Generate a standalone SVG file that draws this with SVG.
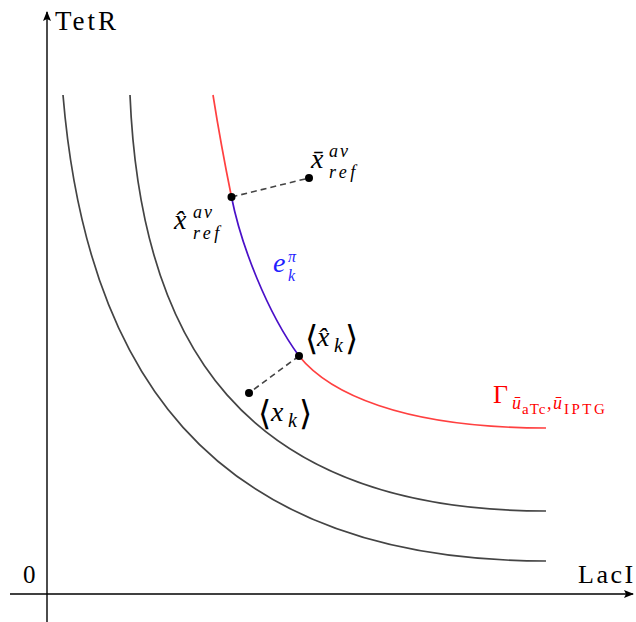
<svg xmlns="http://www.w3.org/2000/svg" width="636" height="622" viewBox="0 0 636 622">
<style>
.it{font-style:italic}
.ax{stroke:#000;stroke-width:1.4;fill:none}
.g{stroke:#444;stroke-width:1.7;fill:none}
.r{stroke:#ff4040;stroke-width:1.7;fill:none}
.b{stroke:#4a10c8;stroke-width:1.7;fill:none}
.d{stroke:#444;stroke-width:1.6;fill:none;stroke-dasharray:6 4}
.blue{fill:#1f1fff}
.red{fill:#ff0000}
</style>
<defs>
<marker id="ah" markerWidth="10" markerHeight="8" refX="9" refY="4" orient="auto" markerUnits="userSpaceOnUse">
<path d="M0,0 L10,4 L0,8 L2,4 Z" fill="#000"/>
</marker>
</defs>
<rect width="636" height="622" fill="#fff"/>
<g id="axes">
<line class="ax" x1="47" y1="622" x2="47" y2="12" marker-end="url(#ah)"/>
<line class="ax" x1="10" y1="594" x2="633" y2="594" marker-end="url(#ah)"/>
<text x="55" y="30" font-family="Liberation Serif, serif" font-size="27" letter-spacing="3">TetR</text>
<text x="578" y="583" font-family="Liberation Serif, serif" font-size="26" letter-spacing="2.5">LacI</text>
<text x="23" y="583" font-family="Liberation Serif, serif" font-size="25">0</text>
</g>
<g id="connectors">
<path id="curve1" class="g" d="M63,95 C85,360 200,561 546,561"/>
<path id="curve2" class="g" d="M130,95 C140,340 240,511 546,511"/>
<path class="r" d="M213,95 C219,133 225,165 231.5,197"/>
<path class="b" d="M231.5,197 C241,245 267,312 299,356"/>
<path class="r" d="M299,356 C328,392 400,428 546,428"/>
<line class="d" x1="231.5" y1="197" x2="309" y2="178"/>
<line class="d" x1="299" y1="356" x2="249" y2="393"/>
</g>
<g id="x-ref-hat">
<circle cx="231.5" cy="197" r="4"/>
<text class="it" font-family="Liberation Serif, serif"><tspan x="174" y="229" font-size="28">x̂</tspan><tspan x="193" y="218" font-size="18" letter-spacing="2">av</tspan><tspan x="193" y="239" font-size="18" letter-spacing="3.5">ref</tspan></text>
</g>
<g id="x-ref-bar">
<circle cx="309" cy="178" r="4"/>
<text class="it" font-family="Liberation Serif, serif"><tspan x="311" y="168" font-size="28">x̄</tspan><tspan x="329" y="157" font-size="18" letter-spacing="2">av</tspan><tspan x="329" y="178" font-size="18" letter-spacing="3.5">ref</tspan></text>
</g>
<g id="e-k">
<text class="it blue" font-family="Liberation Serif, serif"><tspan x="273" y="272" font-size="28">e</tspan><tspan x="288" y="262" font-size="16">π</tspan><tspan x="288" y="281" font-size="16">k</tspan></text>
</g>
<g id="x-hat-k">
<circle cx="299" cy="356" r="4"/>
<text font-family="Liberation Serif, DejaVu Serif, serif"><tspan x="305" y="350" font-size="34">⟨</tspan><tspan class="it" x="317" y="346" font-size="28">x̂</tspan><tspan class="it" x="334" y="352" font-size="20">k</tspan><tspan x="345" y="350" font-size="34">⟩</tspan></text>
</g>
<g id="x-k">
<circle cx="249" cy="393" r="4"/>
<text font-family="Liberation Serif, DejaVu Serif, serif"><tspan x="258" y="425" font-size="34">⟨</tspan><tspan class="it" x="271" y="421" font-size="28">x</tspan><tspan class="it" x="288" y="427" font-size="20">k</tspan><tspan x="299" y="425" font-size="34">⟩</tspan></text>
</g>
<g id="gamma">
<text class="red" font-family="Liberation Serif, serif"><tspan x="493" y="403" font-size="26">Γ</tspan><tspan class="it" x="512" y="409" font-size="18">ū</tspan><tspan x="522" y="414" font-size="15" letter-spacing="1">aTc</tspan><tspan class="it" x="547" y="409" font-size="18">,</tspan><tspan class="it" x="553" y="409" font-size="18">ū</tspan><tspan x="564" y="414" font-size="15" letter-spacing="2.5">IPTG</tspan></text>
</g>
</svg>
